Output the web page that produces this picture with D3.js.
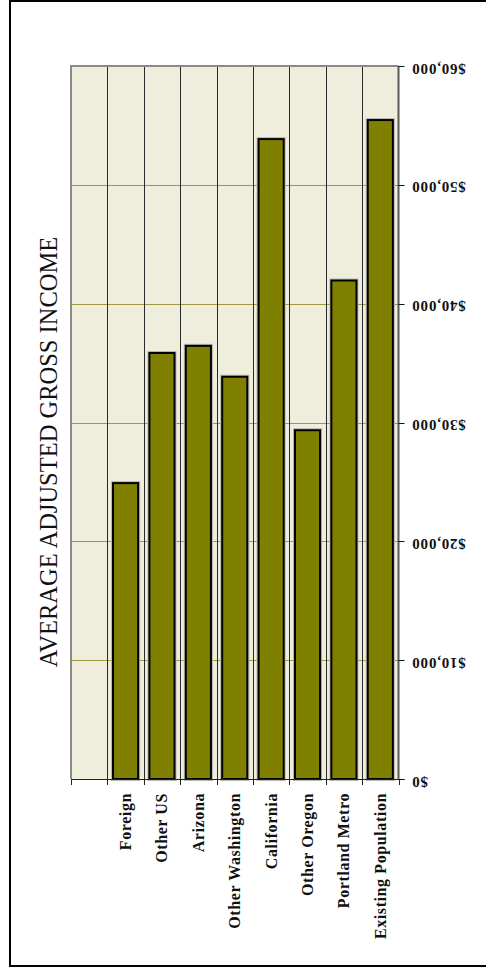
<!DOCTYPE html>
<html>
<head>
<meta charset="utf-8">
<script src="https://cdn.jsdelivr.net/npm/d3@7"></script>
<style>
  html, body { margin: 0; padding: 0; background: #fff; }
  svg { display: block; }
</style>
</head>
<body>
<svg id="chart" width="486" height="968"></svg>
<script>
// Average adjusted gross income by origin of household
const categories = ["", "Foreign", "Other US", "Arizona", "Other Washington", "California", "Other Oregon", "Portland Metro", "Existing Population"];
const incomes = [null, 24900, 35850, 36450, 33850, 53850, 29350, 41950, 55450];
const tickValues = [0, 10000, 20000, 30000, 40000, 50000, 60000];
const tickLabels = ["$0", "$10,000", "$20,000", "$30,000", "$40,000", "$50,000", "$60,000"];
const title = "AVERAGE ADJUSTED GROSS INCOME";

const svg = d3.select("#chart");
const serif = "'Liberation Serif', 'Times New Roman', serif";

// outer frame
svg.append("rect")
  .attr("x", 10).attr("y", 1).attr("width", 500).attr("height", 965)
  .attr("fill", "none").attr("stroke", "#000").attr("stroke-width", 2);

const plot = { left: 71, right: 398.5, top: 66, bottom: 779 };

const x = d3.scaleBand()
  .domain(categories.map((c, i) => i))
  .range([plot.left, plot.right])
  .paddingInner(0.31)
  .paddingOuter(0.155);

const y = d3.scaleLinear()
  .domain([0, 60000])
  .range([plot.bottom, plot.top]);

// plot background
svg.append("rect")
  .attr("x", plot.left).attr("y", plot.top)
  .attr("width", plot.right - plot.left).attr("height", plot.bottom - plot.top)
  .attr("fill", "#efeddc");

// horizontal value gridlines
svg.append("g")
  .selectAll("line")
  .data(tickValues.slice(1, -1))
  .join("line")
  .attr("x1", plot.left).attr("x2", plot.right)
  .attr("y1", d => Math.round(y(d)) + 0.5).attr("y2", d => Math.round(y(d)) + 0.5)
  .attr("stroke", "#a09a3e").attr("stroke-width", 1);

// vertical category gridlines at band boundaries
const step = x.step();
const bounds = d3.range(1, categories.length).map(i => plot.left + i * step);
svg.append("g")
  .selectAll("line")
  .data(bounds)
  .join("line")
  .attr("x1", d => Math.round(d) + 0.5).attr("x2", d => Math.round(d) + 0.5)
  .attr("y1", plot.top).attr("y2", plot.bottom)
  .attr("stroke", "#2a2a2a").attr("stroke-width", 1);

// plot border (left and top)
svg.append("path")
  .attr("d", `M${plot.left},${plot.bottom} V${plot.top} H${plot.right}`)
  .attr("fill", "none").attr("stroke", "#8a8a8a").attr("stroke-width", 2);

// bars
const barData = incomes.map((v, i) => ({ i, v })).filter(d => d.v != null);
const bars = svg.append("g");
bars.selectAll("rect.halo")
  .data(barData)
  .join("rect")
  .attr("class", "halo")
  .attr("x", d => x(d.i)).attr("width", x.bandwidth())
  .attr("y", d => y(d.v)).attr("height", d => y(0) - y(d.v))
  .attr("fill", "none").attr("stroke", "#b8b8b0").attr("stroke-width", 4);
bars.selectAll("rect.bar")
  .data(barData)
  .join("rect")
  .attr("class", "bar")
  .attr("x", d => x(d.i)).attr("width", x.bandwidth())
  .attr("y", d => y(d.v)).attr("height", d => y(0) - y(d.v))
  .attr("fill", "#808000").attr("stroke", "#000").attr("stroke-width", 2);

// bottom category axis
const xAxis = svg.append("g");
xAxis.append("line")
  .attr("x1", plot.left).attr("x2", plot.right + 6)
  .attr("y1", plot.bottom + 0.5).attr("y2", plot.bottom + 0.5)
  .attr("stroke", "#222").attr("stroke-width", 1);
xAxis.selectAll("line.tick")
  .data([plot.left].concat(bounds).concat([plot.right]))
  .join("line")
  .attr("class", "tick")
  .attr("x1", d => Math.round(d) + 0.5).attr("x2", d => Math.round(d) + 0.5)
  .attr("y1", plot.bottom).attr("y2", plot.bottom + 6)
  .attr("stroke", "#222");
xAxis.selectAll("text")
  .data(categories.map((c, i) => ({ c, i })).filter(d => d.c))
  .join("text")
  .attr("transform", d => `translate(${x(d.i) + x.bandwidth() / 2},793) rotate(-90)`)
  .attr("text-anchor", "end")
  .attr("dominant-baseline", "central")
  .attr("font-family", serif)
  .attr("font-weight", "bold")
  .attr("font-size", 16)
  .attr("letter-spacing", 0.6)
  .attr("fill", "#111")
  .text(d => d.c);

// right value axis, labels drawn upside down
const yAxis = svg.append("g");
yAxis.append("line")
  .attr("x1", plot.right).attr("x2", plot.right)
  .attr("y1", plot.top).attr("y2", plot.bottom)
  .attr("stroke", "#5a5a5a").attr("stroke-width", 2);
yAxis.selectAll("line.tick")
  .data(tickValues)
  .join("line")
  .attr("class", "tick")
  .attr("x1", plot.right).attr("x2", plot.right + 6)
  .attr("y1", d => Math.round(y(d)) + 0.5).attr("y2", d => Math.round(y(d)) + 0.5)
  .attr("stroke", "#111");
yAxis.selectAll("text")
  .data(tickValues.map((v, i) => ({ v, label: tickLabels[i] })))
  .join("text")
  .attr("transform", d => `translate(411.5,${y(d.v)}) rotate(180)`)
  .attr("text-anchor", "end")
  .attr("dominant-baseline", "central")
  .attr("dy", -2.5)
  .attr("font-family", serif)
  .attr("font-weight", "bold")
  .attr("font-size", 15)
  .attr("letter-spacing", 0.8)
  .attr("fill", "#111")
  .text(d => d.label);

// title along the left edge
svg.append("text")
  .attr("transform", "translate(48,452) rotate(-90)")
  .attr("text-anchor", "middle")
  .attr("dominant-baseline", "central")
  .attr("font-family", serif)
  .attr("font-size", 24.5)
  .attr("fill", "#111")
  .text(title);
</script>
</body>
</html>
